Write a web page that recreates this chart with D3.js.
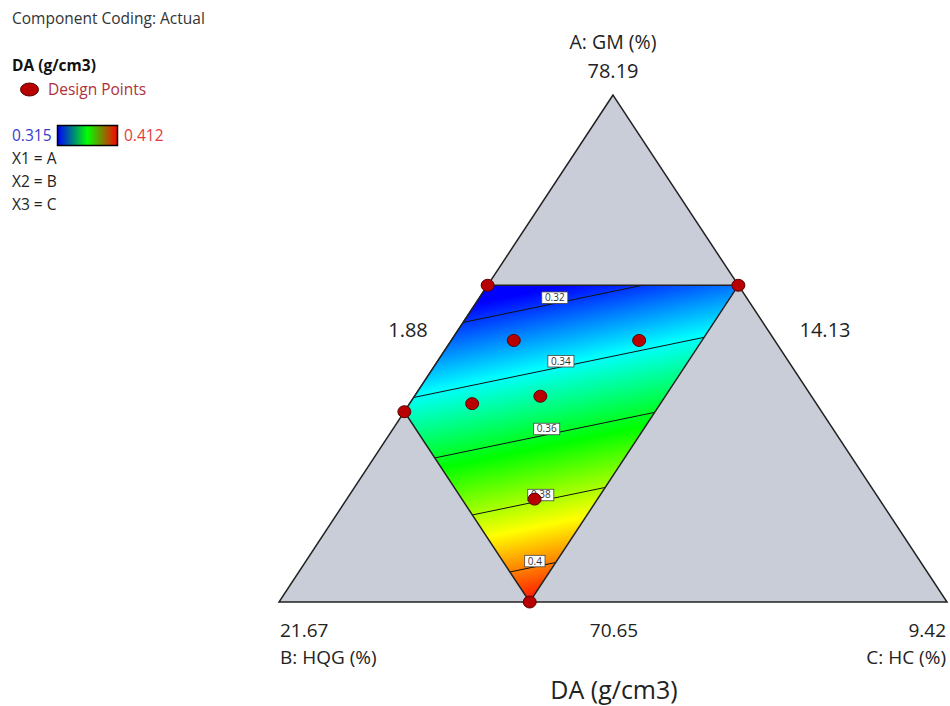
<!DOCTYPE html>
<html>
<head>
<meta charset="utf-8">
<script src="https://cdn.jsdelivr.net/npm/d3@7"></script>
<style>
  html, body { margin: 0; padding: 0; background: #fff; }
  svg { display: block; font-family: "Open Sans", "Noto Sans", sans-serif; }
</style>
</head>
<body>
<svg id="chart" width="950" height="706"></svg>
<script>
// ---------------- data ----------------
const compTitles = ["A: GM (%)", "B: HQG (%)", "C: HC (%)"];
const compMin = [70.65, 14.13, 1.88];
const compMax = [78.19, 21.67, 9.42];
const vertexLabels = ["78.19", "21.67", "9.42"];   // component maxima at vertices
const sideLabels = ["70.65", "14.13", "1.88"];     // A min (bottom), B min (right side), C min (left side)

// design points (actual units)
const dpA = [75.36, 75.36, 73.48, 70.65, 73.71, 74.54, 74.54, 73.60, 72.18];
const dpB = [16.96, 14.13, 18.84, 18.84, 17.19, 17.08, 15.66, 18.02, 18.02];
const dpC = [1.88, 4.71, 1.88, 4.71, 3.30, 2.59, 4.00, 2.59, 4.00];

// constrained design region (actual units), polygon order
const regionA = [75.36, 75.36, 70.65, 73.48];
const regionB = [16.96, 14.13, 18.84, 18.84];
const regionC = [1.88, 4.71, 4.71, 1.88];

// linear mixture model on L-pseudo components
const modelTerms = ["A", "B", "C"];
const modelCoefs = [0.2594, 0.3945, 0.4372];

const colorMin = 0.315, colorMax = 0.412;
const contourLevels = [0.32, 0.34, 0.36, 0.38, 0.40];
const contourLabels = ["0.32", "0.34", "0.36", "0.38", "0.4"];

const legendLines = ["X1 = A", "X2 = B", "X3 = C"];

// ---------------- scales ----------------
const svg = d3.select("#chart");
const range = compMax[0] - compMin[0];
const yScale = d3.scaleLinear().domain([0, 1]).range([602, 95]);   // pseudo A
const xScale = d3.scaleLinear().domain([-1, 1]).range([279, 947]); // pseudo (C - B)

function pseudo(A, B, C) {
  return [(A - compMin[0]) / range, (B - compMin[1]) / range, (C - compMin[2]) / range];
}
function projP(a, b, c) { return [xScale(c - b), yScale(a)]; }
function proj(A, B, C) { const p = pseudo(A, B, C); return projP(p[0], p[1], p[2]); }
function modelP(a, b, c) { return modelCoefs[0] * a + modelCoefs[1] * b + modelCoefs[2] * c; }
function modelXY(x, y) {
  const a = yScale.invert(y), d = xScale.invert(x);
  const b = (1 - a - d) / 2, c = (1 - a + d) / 2;
  return modelP(a, b, c);
}
const hueScale = d3.scaleLinear().domain([colorMin, colorMax]).range([240, 0]).clamp(true);
const colorOf = v => d3.hsl(hueScale(v), 1, 0.5).formatHex();

const defs = svg.append("defs");

// ---------------- outer simplex ----------------
const tri = [projP(1, 0, 0), projP(0, 1, 0), projP(0, 0, 1)];
svg.append("path")
  .attr("d", d3.line()(tri) + "Z")
  .attr("fill", "#c9cdd8")
  .attr("stroke", "#222")
  .attr("stroke-width", 1.5)
  .attr("stroke-linejoin", "miter");

// ---------------- region fill (linear model -> linear gradient) ----------------
const regionPts = regionA.map((A, i) => proj(A, regionB[i], regionC[i]));
const cx = d3.mean(regionPts, p => p[0]), cy = d3.mean(regionPts, p => p[1]);
const v0 = modelXY(cx, cy);
const gx = modelXY(cx + 1, cy) - v0, gy = modelXY(cx, cy + 1) - v0;
const g2 = gx * gx + gy * gy;
const at = v => [cx + gx * (v - v0) / g2, cy + gy * (v - v0) / g2];
const p1 = at(colorMin), p2 = at(colorMax);
const grad = defs.append("linearGradient")
  .attr("id", "surf").attr("gradientUnits", "userSpaceOnUse")
  .attr("x1", p1[0]).attr("y1", p1[1]).attr("x2", p2[0]).attr("y2", p2[1]);
d3.range(0, 1.0001, 0.0625).forEach(t => {
  grad.append("stop").attr("offset", t).attr("stop-color", colorOf(colorMin + t * (colorMax - colorMin)));
});
svg.append("path")
  .attr("d", d3.line()(regionPts) + "Z")
  .attr("fill", "url(#surf)")
  .attr("stroke", "none");

// ---------------- contours ----------------
const regionP = regionA.map((A, i) => pseudo(A, regionB[i], regionC[i]));
const regionV = regionP.map(p => modelP(p[0], p[1], p[2]));
const contourG = svg.append("g");
const labelG = svg.append("g");
contourLevels.forEach((lev, k) => {
  const pts = [];
  for (let i = 0; i < regionP.length; i++) {
    const j = (i + 1) % regionP.length;
    const vi = regionV[i], vj = regionV[j];
    if ((vi - lev) * (vj - lev) < 0) {
      const t = (lev - vi) / (vj - vi);
      const pa = regionP[i].map((q, m) => q + t * (regionP[j][m] - q));
      pts.push(projP(pa[0], pa[1], pa[2]));
    }
  }
  if (pts.length < 2) return;
  pts.sort((u, w) => u[0] - w[0]);
  contourG.append("line")
    .attr("x1", pts[0][0]).attr("y1", pts[0][1])
    .attr("x2", pts[1][0]).attr("y2", pts[1][1])
    .attr("stroke", "#111").attr("stroke-width", 1);
  const lx = (pts[0][0] + pts[1][0]) / 2 + 2;
  const ly = pts[0][1] + (pts[1][1] - pts[0][1]) * (lx - pts[0][0]) / (pts[1][0] - pts[0][0]);
  const g = labelG.append("g");
  const rect = g.append("rect");
  const t = g.append("text")
    .attr("x", lx).attr("y", ly - 2.3)
    .attr("text-anchor", "middle")
    .attr("font-size", 10).attr("fill", "#333")
    .text(contourLabels[k]);
  const bb = t.node().getBBox();
  rect.attr("x", lx - bb.width / 2 - 3).attr("y", ly - 11.5)
    .attr("width", bb.width + 6).attr("height", 11.5)
    .attr("fill", "#fff").attr("stroke", "#444").attr("stroke-width", 0.8);
});

// region outline
svg.append("path")
  .attr("d", d3.line()(regionPts) + "Z")
  .attr("fill", "none")
  .attr("stroke", "#222")
  .attr("stroke-width", 1.5);

// ---------------- design points ----------------
svg.append("g").selectAll("ellipse")
  .data(dpA.map((A, i) => proj(A, dpB[i], dpC[i])))
  .join("ellipse")
  .attr("cx", d => d[0]).attr("cy", d => d[1])
  .attr("rx", 6.5).attr("ry", 6)
  .attr("fill", "#b80000")
  .attr("stroke", "#5a0000").attr("stroke-width", 1);

// ---------------- axis texts ----------------
const axisG = svg.append("g").attr("fill", "#222");
const apex = tri[0], left = tri[1], right = tri[2];
const fs = 20, fsB = 19;
axisG.append("text").attr("x", apex[0]).attr("y", apex[1] - 46)
  .attr("text-anchor", "middle").attr("font-size", 19.5).text(compTitles[0]);
axisG.append("text").attr("x", apex[0]).attr("y", apex[1] - 17)
  .attr("text-anchor", "middle").attr("font-size", fs).text(vertexLabels[0]);
axisG.append("text").attr("x", left[0] + 1).attr("y", left[1] + 35)
  .attr("text-anchor", "start").attr("font-size", fsB).text(vertexLabels[1]);
axisG.append("text").attr("x", left[0] + 1).attr("y", left[1] + 62)
  .attr("text-anchor", "start").attr("font-size", fsB).text(compTitles[1]);
axisG.append("text").attr("x", right[0] - 1).attr("y", right[1] + 35)
  .attr("text-anchor", "end").attr("font-size", fsB).text(vertexLabels[2]);
axisG.append("text").attr("x", right[0] - 1).attr("y", right[1] + 62)
  .attr("text-anchor", "end").attr("font-size", fsB).text(compTitles[2]);
// side labels
const midBot = projP(0, 0.5, 0.5), midRight = projP(0.5, 0, 0.5), midLeft = projP(0.5, 0.5, 0);
axisG.append("text").attr("x", midBot[0] + 1).attr("y", midBot[1] + 35)
  .attr("text-anchor", "middle").attr("font-size", fsB).text(sideLabels[0]);
axisG.append("text").attr("x", midRight[0] + 45).attr("y", midRight[1] - 12)
  .attr("text-anchor", "middle").attr("font-size", fs).text(sideLabels[1]);
axisG.append("text").attr("x", midLeft[0] - 38).attr("y", midLeft[1] - 12)
  .attr("text-anchor", "middle").attr("font-size", fs).text(sideLabels[2]);
axisG.append("text").attr("x", apex[0] + 1).attr("y", 699)
  .attr("text-anchor", "middle").attr("font-size", 25).text("DA (g/cm3)");

// ---------------- legend ----------------
const lg = svg.append("g").attr("font-size", 15.5);
lg.append("text").attr("x", 12).attr("y", 24).attr("fill", "#333").text("Component Coding: Actual");
lg.append("text").attr("x", 12).attr("y", 71).attr("fill", "#111").attr("font-weight", "bold").text("DA (g/cm3)");
lg.append("ellipse").attr("cx", 29.5).attr("cy", 89.5).attr("rx", 9).attr("ry", 6.5)
  .attr("fill", "#b80000").attr("stroke", "#5a0000").attr("stroke-width", 1);
lg.append("text").attr("x", 48).attr("y", 94.5).attr("fill", "#b0303c").text("Design Points");
const lgGrad = defs.append("linearGradient").attr("id", "lgbar");
[["0", "#0000ff"], ["0.5", "#00ff00"], ["1", "#ff0000"]].forEach(s =>
  lgGrad.append("stop").attr("offset", s[0]).attr("stop-color", s[1]));
lg.append("text").attr("x", 12).attr("y", 141).attr("fill", "#3a3ad0").text(d3.format(".3f")(colorMin));
lg.append("rect").attr("x", 57.5).attr("y", 125.5).attr("width", 60).attr("height", 20)
  .attr("fill", "url(#lgbar)").attr("stroke", "#000").attr("stroke-width", 1.5);
lg.append("text").attr("x", 124).attr("y", 141).attr("fill", "#e03c3c").text(d3.format(".3f")(colorMax));
legendLines.forEach((s, i) => {
  lg.append("text").attr("x", 12).attr("y", 164 + i * 23).attr("fill", "#222").text(s);
});
</script>
</body>
</html>
